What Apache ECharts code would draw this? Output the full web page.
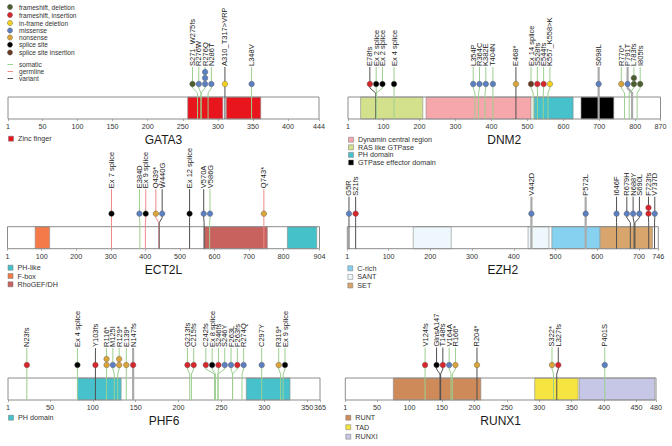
<!DOCTYPE html>
<html><head><meta charset="utf-8">
<script src="https://cdn.jsdelivr.net/npm/echarts@6/dist/echarts.min.js"></script>
<style>html,body{margin:0;padding:0;background:#fff}#c{width:672px;height:446px}</style>
</head><body><div id="c"></div>
<script>
// ================= DATA =================
const geneNames = ['GATA3', 'DNM2', 'ECT2L', 'EZH2', 'PHF6', 'RUNX1'];
const geneLengths = [444, 870, 904, 746, 365, 480];
const tickValues = [
  [1, 50, 100, 150, 200, 250, 300, 350, 400, 444],
  [1, 100, 200, 300, 400, 500, 600, 700, 800, 870],
  [1, 100, 200, 300, 400, 500, 600, 700, 800, 904],
  [1, 100, 200, 300, 400, 500, 600, 700, 746],
  [1, 50, 100, 150, 200, 250, 300, 350, 365],
  [1, 50, 100, 150, 200, 250, 300, 350, 400, 450, 480]
];
// domains: [name, start, end]
const domainsGATA3 = [['Zinc finger', 257, 307], ['Zinc finger', 312, 361]];
const domainsDNM2 = [['RAS like GTPase', 36, 209], ['Dynamin central region', 218, 510], ['PH domain', 519, 627], ['GTPase effector domain', 649, 740]];
const domainsECT2L = [['F-box', 81, 123], ['RhoGEF/DH', 570, 753], ['PH-like', 811, 896]];
const domainsEZH2 = [['SANT', 159, 250], ['SANT', 434, 484], ['C-rich', 491, 606], ['SET', 607, 732]];
const domainsPHF6 = [['PH domain', 82, 133], ['PH domain', 279, 330]];
const domainsRUNX1 = [['RUNT', 75, 210], ['TAD', 293, 360], ['RUNXI', 362, 478]];
// legend order of domains
const legendGATA3 = ['Zinc finger'];
const legendDNM2 = ['Dynamin central region', 'RAS like GTPase', 'PH domain', 'GTPase effector domain'];
const legendECT2L = ['PH-like', 'F-box', 'RhoGEF/DH'];
const legendEZH2 = ['C-rich', 'SANT', 'SET'];
const legendPHF6 = ['PH domain'];
const legendRUNX1 = ['RUNT', 'TAD', 'RUNXI'];
// mutations: [label, position, type, origin, count]
// type: fd frameshift deletion, fi frameshift insertion, ifd in-frame deletion, mis missense,
//       non nonsense, ss splice site, ssi splice site insertion
// origin: s somatic, g germline, v variant, x mixed
const mutGATA3 = [
  ['S271_W275fs', 271, 'fd', 's', 1],
  ['R276W', 276, 'mis', 's', 1],
  ['R276Q', 276, 'mis', 's', 3],
  ['N286T', 286, 'mis', 's', 1],
  ['A310_T317>VRP', 310, 'ifd', 'v', 1],
  ['L348V', 348, 'mis', 's', 1]
];
const mutDNM2 = [
  ['E78fs', 78, 'fi', 'v', 1],
  ['Ex 2 splice', 80, 'ss', 's', 1],
  ['Ex 2 splice', 80, 'ss', 's', 1],
  ['Ex 4 splice', 129, 'ss', 's', 1],
  ['L354P', 354, 'mis', 's', 1],
  ['R364C', 364, 'mis', 's', 1],
  ['K382E', 382, 'mis', 's', 1],
  ['T404N', 404, 'mis', 's', 1],
  ['E468*', 468, 'non', 'v', 1],
  ['Ex 14 splice', 516, 'ssi', 's', 1],
  ['S528fs', 528, 'fi', 's', 1],
  ['E544fs', 544, 'fi', 's', 1],
  ['K557_K558>K', 557, 'ifd', 's', 1],
  ['S698L', 698, 'mis', 'x', 1],
  ['R770*', 770, 'non', 's', 1],
  ['P791T', 791, 'mis', 'x', 1],
  ['L783fs', 783, 'fd', 's', 2],
  ['I805fs', 805, 'fd', 's', 1]
];
const mutECT2L = [
  ['Ex 7 splice', 302, 'ss', 'g', 1],
  ['E384D', 384, 'mis', 's', 1],
  ['Ex 9 splice', 400, 'ss', 'g', 1],
  ['Q439*', 439, 'non', 'g', 1],
  ['W440G', 440, 'mis', 'v', 1],
  ['Ex 12 splice', 528, 'ss', 'v', 1],
  ['V570A', 570, 'mis', 'v', 1],
  ['V586G', 586, 'mis', 's', 1],
  ['Q743*', 743, 'non', 'g', 1]
];
const mutEZH2 = [
  ['G5R', 5, 'mis', 'v', 1],
  ['S21fs', 21, 'fi', 'v', 1],
  ['V442D', 442, 'mis', 'x', 1],
  ['P572L', 572, 'mis', 'x', 1],
  ['I646F', 646, 'mis', 'v', 1],
  ['R679H', 679, 'mis', 'v', 1],
  ['N688Y', 688, 'mis', 'v', 1],
  ['S690L', 690, 'mis', 'v', 1],
  ['F723fs', 723, 'fi', 'v', 2],
  ['V737D', 737, 'mis', 'v', 1]
];
const mutPHF6 = [
  ['N23fs', 23, 'fi', 's', 1],
  ['Ex 4 splice', 82, 'ss', 's', 1],
  ['Y103fs', 103, 'fi', 'v', 1],
  ['R116*', 116, 'non', 's', 2],
  ['M125I', 125, 'mis', 's', 1],
  ['R129*', 129, 'non', 's', 2],
  ['E139*', 139, 'non', 's', 1],
  ['N147fs', 147, 'fi', 'x', 1],
  ['G213fs', 213, 'fi', 's', 1],
  ['C215fs', 215, 'fi', 's', 1],
  ['C242fs', 242, 'fi', 's', 1],
  ['Ex 8 splice', 243, 'ss', 's', 1],
  ['S246fs', 246, 'fi', 's', 1],
  ['S246Y', 246, 'mis', 's', 1],
  ['F263L', 263, 'mis', 's', 1],
  ['F263fs', 263, 'fi', 's', 1],
  ['R274Q', 274, 'mis', 's', 1],
  ['C297Y', 297, 'mis', 's', 1],
  ['R319*', 319, 'non', 's', 1],
  ['Ex 9 splice', 322, 'ss', 's', 1]
];
const mutRUNX1 = [
  ['V124fs', 124, 'fi', 's', 1],
  ['GlnsA147', 147, 'ss', 'v', 1],
  ['T148fs', 148, 'fi', 'v', 1],
  ['V164A', 164, 'mis', 's', 1],
  ['R166*', 166, 'non', 's', 1],
  ['R204*', 204, 'non', 'v', 1],
  ['S322*', 322, 'non', 's', 1],
  ['L327fs', 327, 'fi', 'v', 1],
  ['P401S', 401, 'mis', 's', 1]
];
const typeNames = ['frameshift, deletion', 'frameshift, insertion', 'in-frame deletion', 'missense', 'nonsense', 'splice site', 'splice site insertion'];
const typeKeys = ['fd', 'fi', 'ifd', 'mis', 'non', 'ss', 'ssi'];
const originNames = ['somatic', 'germline', 'variant'];
const originKeys = ['s', 'g', 'v'];

// ================= STYLE / LAYOUT =================
const geneDomains = [domainsGATA3, domainsDNM2, domainsECT2L, domainsEZH2, domainsPHF6, domainsRUNX1];
const geneLegends = [legendGATA3, legendDNM2, legendECT2L, legendEZH2, legendPHF6, legendRUNX1];
const geneMutations = [mutGATA3, mutDNM2, mutECT2L, mutEZH2, mutPHF6, mutRUNX1];
const FONT = "'Liberation Sans', Arial, Helvetica, sans-serif";
const domainColors = {
  'Zinc finger': '#e8161c', 'Dynamin central region': '#f6a7ab', 'RAS like GTPase': '#d3e08c',
  'PH domain': '#47c2cc', 'GTPase effector domain': '#000000', 'PH-like': '#45c1c9',
  'F-box': '#f47a4a', 'RhoGEF/DH': '#c8625e', 'C-rich': '#86d1f0', 'SANT': '#eef7fc',
  'SET': '#d8a66c', 'RUNT': '#cf8a5a', 'TAD': '#f6e440', 'RUNXI': '#c6c6e6'
};
const typeColors = { fd: '#4b5e2e', fi: '#d7262c', ifd: '#f2d01e', mis: '#5b7fc0', non: '#d9a43a', ss: '#000000', ssi: '#6b3a23' };
const originStyle = {
  s: { color: '#9ccf8f', width: 1 }, g: { color: '#ee8a8a', width: 1 },
  v: { color: '#505050', width: 1 }, x: { color: '#aaaaaa', width: 2.2 }
};
const panelLayout = [
  { left: 8, width: 311, top: 97, labelGap: 30, legendY: 138.7, legendStep: 7.6 },
  { left: 348, width: 312.5, top: 97, labelGap: 30, legendY: 139.7, legendStep: 7.6 },
  { left: 7.5, width: 312, top: 226.7, labelGap: 37.5, legendY: 267.7, legendStep: 8.3 },
  { left: 347.3, width: 311, top: 226.7, labelGap: 30, legendY: 268.3, legendStep: 8.6 },
  { left: 8, width: 312, top: 378, labelGap: 30, legendY: 417.7, legendStep: 9.5 },
  { left: 345.3, width: 310.7, top: 378, labelGap: 30.5, legendY: 417.7, legendStep: 9.5 }
];
const BOX_H = 22, DOT_R = 2.8, GAP = 6.3;

function spread(xs, gap) {
  const d = xs.slice();
  for (let it = 0; it < 400; it++) {
    let moved = false;
    for (let i = 1; i < d.length; i++) {
      const diff = d[i] - d[i - 1];
      if (diff < gap - 1e-6) { const s = (gap - diff) / 2; d[i - 1] -= s; d[i] += s; moved = true; }
    }
    if (!moved) break;
  }
  return d;
}

const grids = [], xAxes = [], yAxes = [], series = [], graphics = [];
geneNames.forEach((name, pi) => {
  const lay = panelLayout[pi], L = geneLengths[pi], doms = geneDomains[pi], muts = geneMutations[pi];
  grids.push({ left: lay.left, top: lay.top, width: lay.width, height: BOX_H, show: false });
  xAxes.push({
    type: 'value', gridIndex: pi, min: 1, max: L,
    axisLine: { show: false }, splitLine: { show: false },
    axisTick: { show: true, length: 2, customValues: tickValues[pi], lineStyle: { color: '#999', width: 0.8 } },
    axisLabel: { customValues: tickValues[pi], showMinLabel: true, showMaxLabel: true, fontSize: 7.2, color: '#333', margin: 4, fontFamily: FONT }
  });
  yAxes.push({ type: 'value', gridIndex: pi, min: 0, max: 1, show: false });
  // box background
  series.push({
    type: 'custom', xAxisIndex: pi, yAxisIndex: pi, clip: false, silent: true, z: 1,
    data: [[1, L]],
    renderItem: (params, api) => {
      const a = api.coord([api.value(0), 1]), b = api.coord([api.value(1), 0]);
      return { type: 'rect', shape: { x: a[0], y: a[1], width: b[0] - a[0], height: b[1] - a[1] }, style: { fill: '#fff', stroke: 'none' } };
    }
  });
  // domains
  series.push({
    type: 'custom', xAxisIndex: pi, yAxisIndex: pi, clip: false, silent: true, z: 2,
    data: doms.map(d => [d[1], d[2]]),
    renderItem: (params, api) => {
      const d = doms[params.dataIndex];
      const a = api.coord([api.value(0), 1]), b = api.coord([api.value(1), 0]);
      return { type: 'rect', shape: { x: a[0], y: a[1], width: b[0] - a[0], height: b[1] - a[1] }, style: { fill: domainColors[d[0]], stroke: '#8c8c8c', lineWidth: 0.6 } };
    }
  });
  // box outline
  series.push({
    type: 'custom', xAxisIndex: pi, yAxisIndex: pi, clip: false, silent: true, z: 3,
    data: [[1, L]],
    renderItem: (params, api) => {
      const a = api.coord([api.value(0), 1]), b = api.coord([api.value(1), 0]);
      return { type: 'rect', shape: { x: a[0], y: a[1], width: b[0] - a[0], height: b[1] - a[1] }, style: { fill: 'none', stroke: '#8c8c8c', lineWidth: 1 } };
    }
  });
  // mutations
  series.push({
    type: 'custom', xAxisIndex: pi, yAxisIndex: pi, clip: false, silent: true, z: 4,
    data: muts.map(m => [m[1], 0]),
    renderItem: (params, api) => {
      const i = params.dataIndex, m = muts[i];
      const top = api.coord([1, 1])[1], bot = api.coord([1, 0])[1];
      const xs = muts.map(mm => api.coord([mm[1], 0])[0]);
      const ds = spread(xs, GAP);
      const x0 = xs[i], xd = ds[i];
      const dotY = top - 13, b1 = top - 4, b2 = top - 9, lab = top - lay.labelGap;
      const os = originStyle[m[3]];
      const children = [{
        type: 'polyline',
        shape: { points: [[x0, bot], [x0, top], [x0, b1], [xd, b2], [xd, lab]] },
        style: { stroke: os.color, lineWidth: os.width, fill: 'none' }
      }];
      for (let k = 0; k < m[4]; k++) {
        children.push({ type: 'circle', shape: { cx: xd, cy: dotY - 6 * k, r: DOT_R }, style: { fill: typeColors[m[2]], stroke: '#555', lineWidth: 0.4 } });
      }
      children.push({
        type: 'text', x: xd, y: lab - 1, rotation: Math.PI / 2,
        style: { text: m[0], fill: '#222', fontSize: 7.5, fontFamily: FONT, align: 'left', verticalAlign: 'middle' }
      });
      return { type: 'group', children };
    }
  });
  // title
  graphics.push({ type: 'text', x: lay.left + lay.width / 2, y: lay.top + BOX_H + 21, style: { text: name, fill: '#1a1a1a', fontSize: 12, fontFamily: FONT, align: 'center', verticalAlign: 'middle' } });
  // domain legend
  geneLegends[pi].forEach((dn, k) => {
    const y = lay.legendY + k * lay.legendStep;
    graphics.push({ type: 'rect', shape: { x: lay.left + 0.5, y: y - 2.5, width: 5, height: 5 }, style: { fill: domainColors[dn], stroke: '#777', lineWidth: 0.5 } });
    graphics.push({ type: 'text', x: lay.left + 10, y: y, style: { text: dn, fill: '#333', fontSize: 7.2, fontFamily: FONT, align: 'left', verticalAlign: 'middle' } });
  });
});

// top-left legend
const typeLegendY = [7, 15, 23, 30.5, 37.5, 44.7, 52.5];
typeKeys.forEach((k, i) => {
  graphics.push({ type: 'circle', shape: { cx: 10, cy: typeLegendY[i], r: 2.6 }, style: { fill: typeColors[k], stroke: '#555', lineWidth: 0.4 } });
  graphics.push({ type: 'text', x: 19, y: typeLegendY[i], style: { text: typeNames[i], fill: '#333', fontSize: 6.6, fontFamily: FONT, align: 'left', verticalAlign: 'middle' } });
});
const originLegendY = [64.5, 71.5, 78.5];
originKeys.forEach((k, i) => {
  graphics.push({ type: 'line', shape: { x1: 7.5, y1: originLegendY[i], x2: 13, y2: originLegendY[i] }, style: { stroke: originStyle[k].color, lineWidth: 1 } });
  graphics.push({ type: 'text', x: 19, y: originLegendY[i], style: { text: originNames[i], fill: '#333', fontSize: 6.6, fontFamily: FONT, align: 'left', verticalAlign: 'middle' } });
});

const chart = echarts.init(document.getElementById('c'), null, { renderer: 'svg' });
chart.setOption({
  animation: false,
  backgroundColor: '#fff',
  grid: grids, xAxis: xAxes, yAxis: yAxes, series: series,
  graphic: graphics
});
</script></body></html>
